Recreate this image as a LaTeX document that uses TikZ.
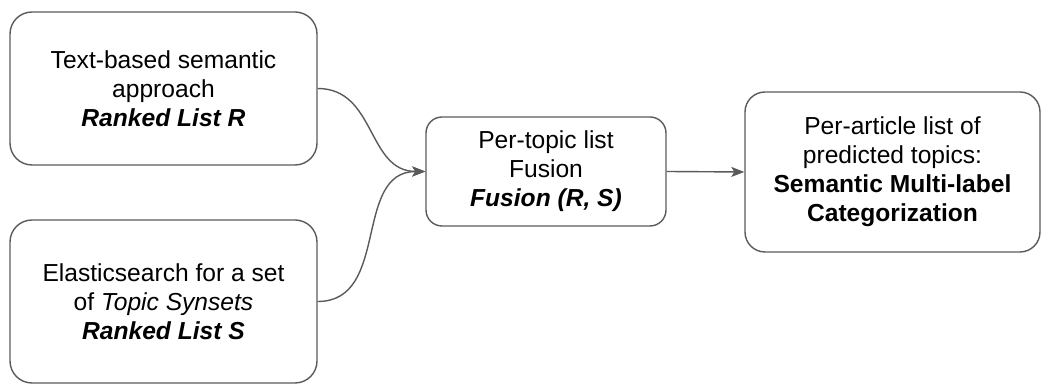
\documentclass[tikz,border=0pt]{standalone}
\usepackage{fontspec}
\setmainfont{Liberation Sans}
\usepackage{xcolor}
\usepackage{tikz}
\usetikzlibrary{arrows.meta}
\definecolor{edgeGray}{RGB}{90, 90, 90}

\begin{document}
\begin{tikzpicture}[
    x=0.5pt, y=-0.5pt,
    every node/.style={draw=edgeGray, line width=0.7pt, align=center, inner sep=0pt,
        font=\fontsize{12.3pt}{14.5pt}\selectfont},
    link/.style={draw=edgeGray, line width=0.7pt, -{Stealth[length=6.5pt, width=5pt, inset=1.5pt]}}
]
\useasboundingbox (0,0) rectangle (1041,384);
\node[rounded corners=11pt, minimum width=153.5pt, minimum height=76.5pt] (textsem) at (163.5,88.5)
    {Text-based semantic\\approach\\\textbf{\textit{Ranked List R}}};
\node[rounded corners=11pt, minimum width=153.5pt, minimum height=81.5pt] (elastic) at (163.5,301.5)
    {Elasticsearch for a set\\of \textit{Topic Synsets}\\\textbf{\textit{Ranked List S}}};
\node[rounded corners=8pt, minimum width=120pt, minimum height=54.5pt] (fusion) at (546,171.5)
    {Per-topic list\\Fusion\\\textbf{\textit{Fusion (R, S)}}};
\node[rounded corners=10pt, minimum width=147.5pt, minimum height=80pt] (topics) at (892.5,172)
    {Per-article list of\\predicted topics:\\\textbf{Semantic Multi-label}\\\textbf{Categorization}};
\draw[link] (textsem.east) to[out=0, in=180, looseness=1.1] (fusion.west);
\draw[link] (elastic.east) to[out=0, in=180, looseness=1.1] (fusion.west);
\draw[link] (fusion.east) -- (topics.west);
\end{tikzpicture}
\end{document}
